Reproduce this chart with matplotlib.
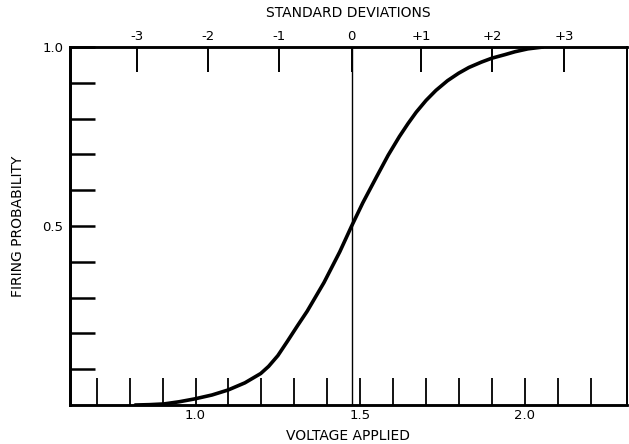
import matplotlib
matplotlib.use("Agg")
import matplotlib.pyplot as plt

# Firing curve (volts, probability)
voltage = [0.817, 0.86, 0.904, 0.95, 0.997, 1.05, 1.099, 1.15, 1.198, 1.222,
           1.25, 1.279, 1.31, 1.339, 1.39, 1.438, 1.474, 1.508, 1.55, 1.585,
           1.619, 1.645, 1.670, 1.70, 1.730, 1.765, 1.799, 1.83, 1.868, 1.90,
           1.940, 1.97, 2.009, 2.054]
probability = [0.0, 0.001, 0.003, 0.009, 0.017, 0.028, 0.042, 0.062, 0.088,
               0.108, 0.138, 0.178, 0.222, 0.262, 0.342, 0.428, 0.500, 0.565,
               0.638, 0.698, 0.750, 0.786, 0.818, 0.851, 0.879, 0.906, 0.927,
               0.943, 0.958, 0.969, 0.979, 0.987, 0.995, 1.0]

# Bottom scale
volt_ticks = [0.7, 0.8, 0.9, 1.0, 1.1, 1.2, 1.3, 1.4, 1.5, 1.6, 1.7, 1.8,
              1.9, 2.0, 2.1, 2.2]
volt_labels = {1.0: "1.0", 1.5: "1.5", 2.0: "2.0"}

# Left scale
prob_ticks = [0.1, 0.2, 0.3, 0.4, 0.5, 0.6, 0.7, 0.8, 0.9, 1.0]
prob_labels = {0.5: "0.5", 1.0: "1.0"}

# Top scale: standard deviations placed on the voltage axis
sd_labels = ["-3", "-2", "-1", "0", "+1", "+2", "+3"]
sd_positions = [0.823, 1.039, 1.252, 1.474, 1.685, 1.901, 2.120]

FONT = "DejaVu Sans"


def pick_labels(ticks, labels):
    """Blank every tick label that is not named"""
    return [labels.get(round(t, 2), "") for t in ticks]


def main():
    fig = plt.figure(figsize=(6.29, 4.44), dpi=100)
    ax = fig.add_axes([0.1113, 0.0878, 0.8855, 0.8062])

    ax.plot(voltage, probability, color="black", linewidth=2.6,
            solid_capstyle="round", solid_joinstyle="round")
    ax.axvline(sd_positions[3], color="black", linewidth=1.0)

    ax.set_xlim(0.619, 2.31)
    ax.set_ylim(0.0, 1.0)

    ax.set_xticks(volt_ticks)
    ax.set_xticklabels(pick_labels(volt_ticks, volt_labels))
    ax.set_yticks(prob_ticks)
    ax.set_yticklabels(pick_labels(prob_ticks, prob_labels))
    ax.tick_params(axis="x", direction="in", length=19.5, width=1.3,
                   pad=3, labelsize=9.5, bottom=True, top=False)
    ax.tick_params(axis="y", direction="in", length=18, width=1.8,
                   pad=5, labelsize=9.5)

    # Standard deviation scale along the top
    top = ax.twiny()
    top.set_xlim(ax.get_xlim())
    top.set_xticks(sd_positions)
    top.set_xticklabels(sd_labels)
    top.tick_params(axis="x", direction="in", length=18, width=1.4,
                    pad=3, labelsize=9.5)

    for a in (ax, top):
        a.spines["left"].set_linewidth(2.0)
        a.spines["bottom"].set_linewidth(1.8)
        a.spines["top"].set_linewidth(1.8)
        a.spines["right"].set_linewidth(1.3)
        for lab in a.get_xticklabels() + a.get_yticklabels():
            lab.set_fontfamily(FONT)
            lab.set_fontweight("medium")

    ax.set_xlabel("VOLTAGE APPLIED", fontsize=10, fontfamily=FONT,
                  labelpad=5)
    ax.set_ylabel("FIRING PROBABILITY", fontsize=10, fontfamily=FONT,
                  labelpad=12)
    top.set_xlabel("STANDARD DEVIATIONS", fontsize=10, fontfamily=FONT,
                   labelpad=9)

    fig.savefig("out.png", dpi=100, facecolor="white")


if __name__ == "__main__":
    main()
